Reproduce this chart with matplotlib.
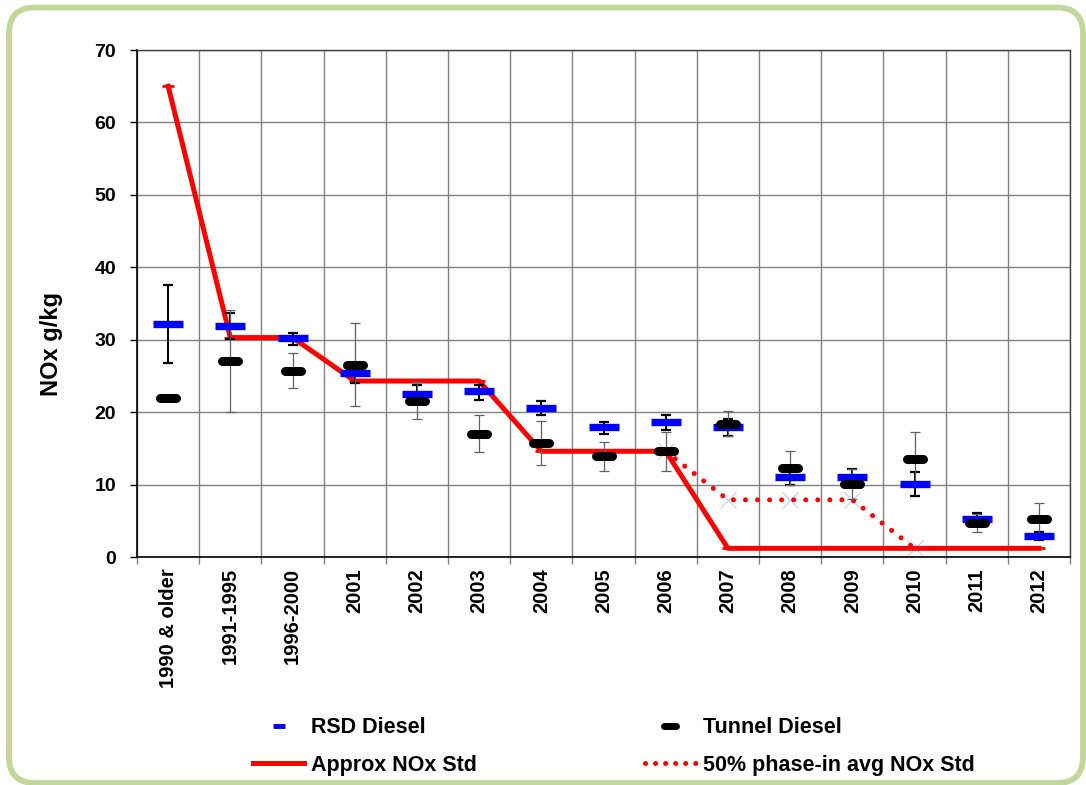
import numpy as np
import matplotlib
matplotlib.use("Agg")
import matplotlib.pyplot as plt
from matplotlib.lines import Line2D
from matplotlib.markers import MarkerStyle
from matplotlib.patches import FancyBboxPatch
from matplotlib.transforms import IdentityTransform

plt.rcParams['font.family'] = ['Liberation Sans', 'DejaVu Sans']
plt.rcParams['font.weight'] = 'bold'

categories = ['1990 & older', '1991-1995', '1996-2000', '2001', '2002', '2003', '2004',
              '2005', '2006', '2007', '2008', '2009', '2010', '2011', '2012']

rsd_mean = [32.2, 31.9, 30.2, 25.4, 22.5, 22.9, 20.6, 17.9, 18.6, 17.9, 11.0, 11.0, 10.1, 5.2, 2.9]
rsd_lo = [26.8, 30.1, 29.3, 24.0, 21.3, 21.7, 19.6, 17.0, 17.5, 16.7, 9.9, 9.9, 8.4, 4.3, 2.3]
rsd_hi = [37.6, 33.7, 30.9, 26.8, 23.7, 23.7, 21.6, 18.6, 19.6, 19.1, 12.1, 12.1, 11.7, 6.1, 3.5]

tunnel_mean = [22.0, 27.0, 25.7, 26.5, 21.6, 17.0, 15.7, 13.9, 14.6, 18.4, 12.3, 10.1, 13.6, 4.7, 5.3]
tunnel_lo = [22.0, 20.0, 23.3, 20.9, 19.0, 14.5, 12.7, 11.9, 11.9, 16.7, 9.9, 8.0, 10.0, 3.5, 3.3]
tunnel_hi = [22.0, 34.1, 28.2, 32.3, 24.2, 19.6, 18.8, 15.9, 17.3, 20.1, 14.7, 12.2, 17.2, 5.9, 7.4]

approx_std = [65.0, 30.3, 30.3, 24.3, 24.3, 24.3, 14.6, 14.6, 14.6, 1.2, 1.2, 1.2, 1.2, 1.2, 1.2]
phase_cats = ['2006', '2007', '2008', '2009', '2010']
phase_std = [14.6, 7.9, 7.9, 7.9, 1.2]

x = np.arange(len(categories))
xp = np.array([categories.index(c) for c in phase_cats])

fig = plt.figure(figsize=(10.86, 7.85), dpi=100)
ax = fig.add_axes([0.1262, 0.2904, 0.8591, 0.6459])

# green rounded frame round the whole chart
frame = FancyBboxPatch((9, 2), 1074, 775.5, boxstyle="round,pad=0,rounding_size=26",
                       transform=IdentityTransform(), facecolor='none',
                       edgecolor='#c3d69b', linewidth=4.2)
fig.add_artist(frame)

# standards
ax.plot(x, approx_std, color='red', lw=3.6, marker='_', ms=9, mew=2, zorder=2)
ax.plot(xp, phase_std, color='red', lw=3.6, linestyle=(0, (0.01, 2.4)),
        dash_capstyle='round', zorder=2)
ax.plot(xp, phase_std, linestyle='none', marker='x', ms=11, mew=0.8,
        color='#c8c8ee', zorder=1.9)

# RSD diesel
rsd_mean = np.array(rsd_mean)
rsd_err = np.array([rsd_mean - np.array(rsd_lo), np.array(rsd_hi) - rsd_mean])
ax.errorbar(x, rsd_mean, yerr=rsd_err, fmt='none', ecolor='black', elinewidth=1.4,
            capsize=3.4, capthick=1.6, zorder=3)
ax.plot(x, rsd_mean, linestyle='none', marker=MarkerStyle('_', capstyle='butt'),
        ms=22, mew=5.3, color='#0000ff', zorder=4)

# tunnel diesel
tunnel_mean = np.array(tunnel_mean)
tun_err = np.array([tunnel_mean - np.array(tunnel_lo), np.array(tunnel_hi) - tunnel_mean])
ax.errorbar(x, tunnel_mean, yerr=tun_err, fmt='none', ecolor='#606060', elinewidth=0.9,
            capsize=3.4, capthick=0.9, zorder=3.5)
ax.plot(x, tunnel_mean, linestyle='none', marker=MarkerStyle('_', capstyle='round'),
        ms=12, mew=6.5, color='black', zorder=5)

ax.set_xlim(-0.5, len(categories) - 0.5)
ax.set_ylim(0, 70)
ax.set_yticks(np.arange(0, 71, 10))
ax.tick_params(axis='y', labelsize=14, length=5, width=1, pad=10)
for lab in ax.get_yticklabels():
    lab.set_fontweight('bold')

# gridlines sit on the category borders, labels in the middle
ax.set_xticks(np.arange(-0.5, len(categories), 1))
ax.set_xticklabels([])
ax.set_xticks(x, minor=True)
ax.set_xticklabels(categories, minor=True, rotation=90, fontsize=14.5, fontweight='bold')
ax.tick_params(axis='x', which='major', length=5, width=1, color='#808080')
ax.tick_params(axis='x', which='minor', length=0, pad=8)

ax.grid(True, which='major', color='#808080', lw=1)
ax.set_axisbelow(True)
for s in ['top', 'right']:
    ax.spines[s].set_color('#404040')
    ax.spines[s].set_linewidth(1)
for s in ['left', 'bottom']:
    ax.spines[s].set_linewidth(1.2)

ax.set_ylabel('NOx g/kg', fontsize=17, fontweight='bold')
ax.yaxis.set_label_coords(-0.079, 0.42)

handles = [
    Line2D([], [], linestyle='none', marker=MarkerStyle('_', capstyle='butt'), ms=8, mew=3.5, color='#0000ff'),
    Line2D([], [], color='red', lw=3.6),
    Line2D([], [], linestyle='none', marker=MarkerStyle('_', capstyle='round'), ms=9, mew=5, color='black'),
    Line2D([], [], color='red', lw=3.6, linestyle=(0, (0.01, 2.0)), dash_capstyle='round'),
]
labels = ['RSD Diesel', 'Approx NOx Std', 'Tunnel Diesel', '50% phase-in avg NOx Std']
fig.legend(handles, labels, ncol=2, loc='center', bbox_to_anchor=(0.565, 0.049),
           frameon=False, prop={'size': 15.5, 'weight': 'bold'}, handlelength=2.4,
           handletextpad=0.3, columnspacing=7.8, labelspacing=0.75)

fig.savefig('out.png', dpi=100)
